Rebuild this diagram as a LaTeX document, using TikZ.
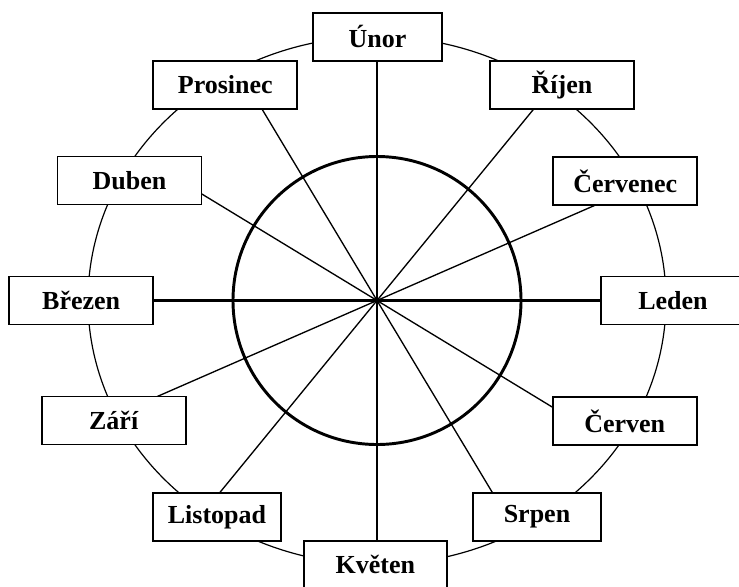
\documentclass[tikz,border=0pt]{standalone}
\usepackage{fontspec}
\setmainfont{Liberation Serif}
\usetikzlibrary{calc}
\begin{document}
\begin{tikzpicture}[x=0.75pt,y=-0.75pt,
  month/.style={draw, fill=white, line width=1.4pt, minimum width=108pt, minimum height=36pt, inner sep=0pt, font=\bfseries\fontsize{19.5}{22}\selectfont},
  axis/.style={line width=2.1pt},
  spoke/.style={line width=1pt},
  rim/.style={line width=0.9pt},
  hub/.style={line width=2.2pt}]
\useasboundingbox (0,0) rectangle (739,586);
\clip (0,0) rectangle (739,586);
\coordinate (c) at (377,300.5);
\draw[rim] (c) ellipse [x radius=289, y radius=264];
\coordinate (s1a) at ($(c)+(-121:240)$);
\coordinate (s1b) at ($(c)+(59:240)$);
\coordinate (s2a) at ($(c)+(-148.7:230)$);
\coordinate (s2b) at ($(c)+(31.3:230)$);
\coordinate (s3a) at ($(c)+(-50.7:270)$);
\coordinate (s3b) at ($(c)+(129.3:270)$);
\coordinate (s4a) at ($(c)+(-23.6:270)$);
\coordinate (s4b) at ($(c)+(156.4:270)$);
\draw[spoke] (s1a) -- (s1b);
\draw[spoke] (s2a) -- (s2b);
\draw[spoke] (s3a) -- (s3b);
\draw[spoke] (s4a) -- (s4b);
\draw[hub] (c) circle [radius=144];
\node[month, minimum width=96.75pt] (unor) at (377.5,36.7) {Únor};
\node[month] (prosinec) at (225.3,85) {Prosinec};
\node[month] (rijen) at (562,85) {Říjen};
\node[month] (duben) at (129.5,180.5) {Duben};
\node[month] (cervenec) at (625.3,181) {Červenec};
\node[month] (brezen) at (81.2,300.5) {Březen};
\node[month] (leden) at (673,300.5) {Leden};
\node[month] (zari) at (113.7,420.5) {Září};
\node[month] (cerven) at (624.7,421) {Červen};
\node[month, minimum width=96pt] (listopad) at (217,517) {Listopad};
\node[month, minimum width=96pt] (srpen) at (537,517) {Srpen};
\node[month, minimum width=107.25pt] (kveten) at (375.3,564.7) {Květen};
\draw[axis] (unor.south -| c) -- (kveten.north -| c);
\draw[axis] (brezen.east) -- (leden.west);
\end{tikzpicture}
\end{document}
